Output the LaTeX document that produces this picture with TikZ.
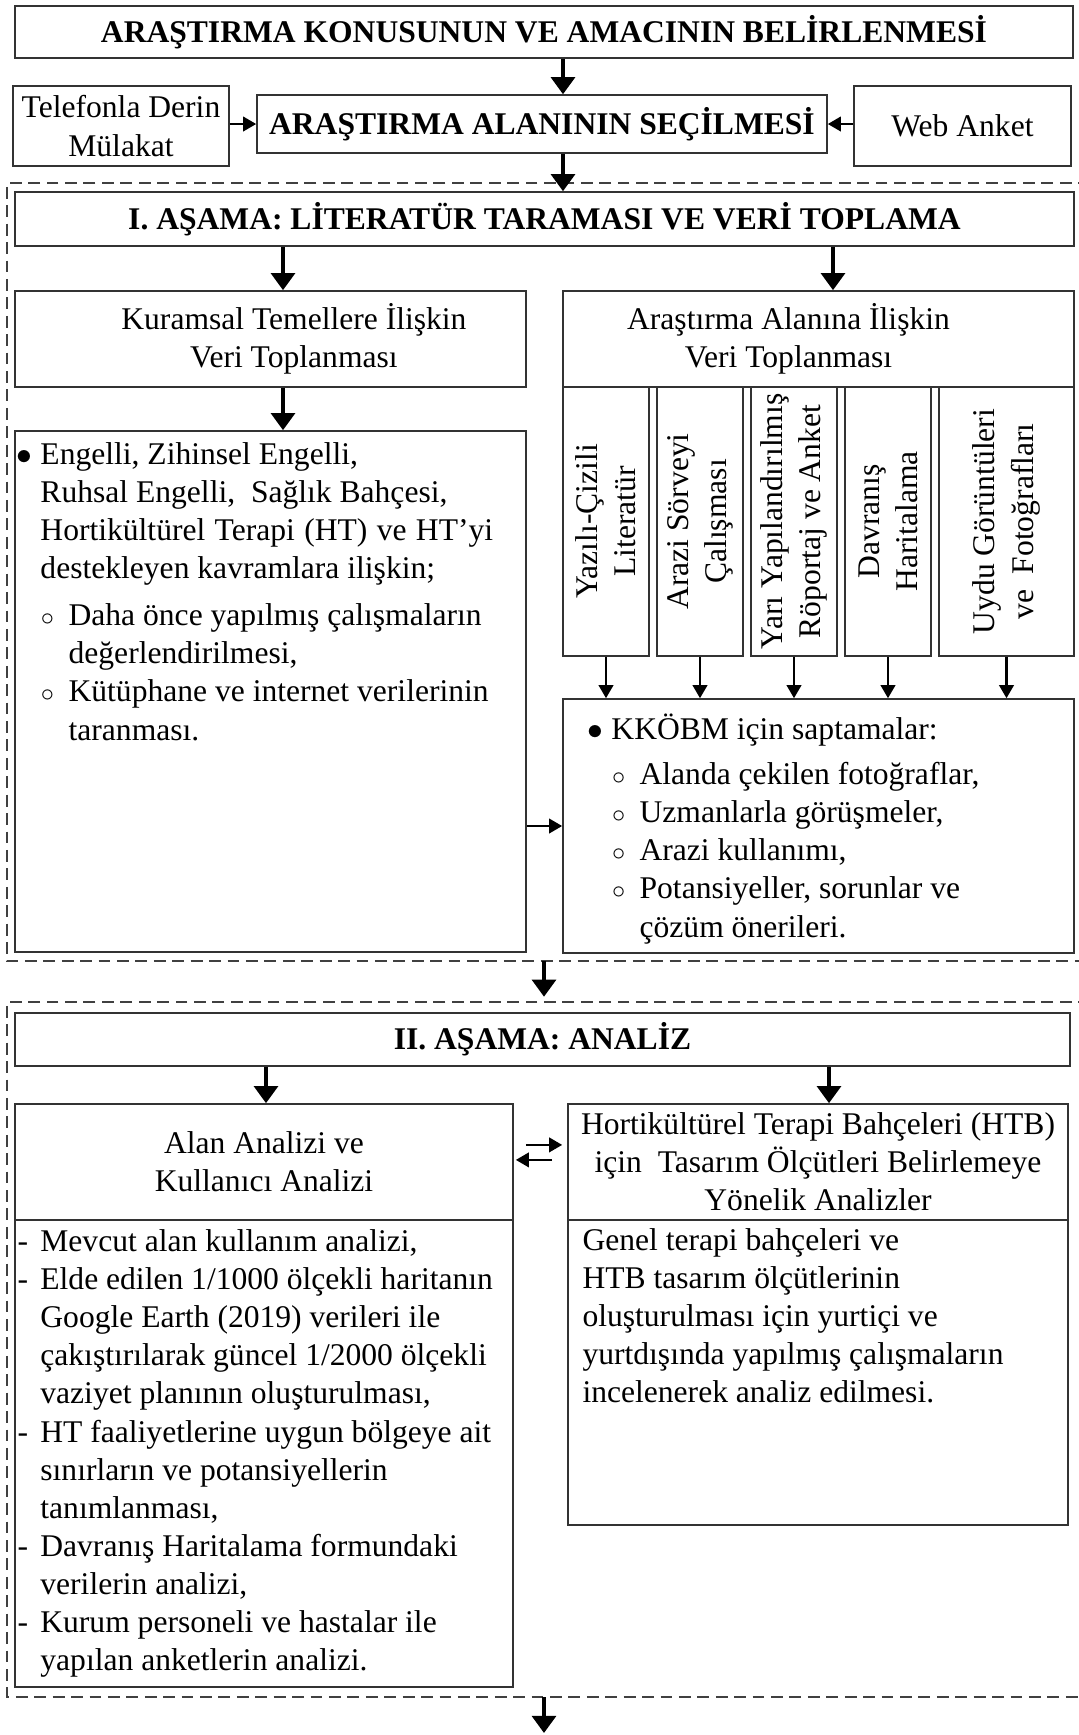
\documentclass[tikz,border=0pt,12pt]{standalone}
\usepackage{fontspec}
\setmainfont{Liberation Serif}
\usepackage{tikz}
\usetikzlibrary{arrows.meta}

\newcommand{\imadde}{\makebox[9.1pt][l]{$\bullet$}}
\newcommand{\omadde}{\hspace*{9.3pt}\makebox[10.5pt][l]{\fontsize{10}{12}\selectfont$\circ$}}
\newcommand{\tire}{\makebox[8.7pt][l]{-}}

\begin{document}
\begin{tikzpicture}[
    x=0.38pt, y=-0.38pt,
    kutu/.style={rectangle, draw=black!80, line width=0.6pt, inner sep=2pt, align=center},
    baslik/.style={kutu, font=\bfseries},
    dikey/.style={kutu, rotate=90, inner sep=0.5pt, minimum width=102.2pt, minimum height=32.7pt},
    yazi/.style={inner sep=0pt, anchor=north west, align=left},
    ok/.style={-{Triangle[width=9pt,length=6.5pt]}, line width=1.5pt},
    inceok/.style={-{Triangle[width=5.5pt,length=5pt]}, line width=1pt},
    kesik/.style={draw=black!75, line width=0.5pt, dash pattern=on 4.5pt off 2.5pt}
  ]

    \useasboundingbox (0,0) rectangle (1079,1735);

    % Ust kisim - konu ve alan secimi
    \node[baslik, minimum width=402pt, minimum height=19.8pt] (amac) at (544,32) {ARAŞTIRMA KONUSUNUN VE AMACININ BELİRLENMESİ};
    \node[baslik, minimum width=216.6pt, minimum height=22pt] (alan) at (542,124) {ARAŞTIRMA ALANININ SEÇİLMESİ};
    \node[kutu, minimum width=82.1pt, minimum height=30.4pt] (telefon) at (121,126) {Telefonla Derin\\Mülakat};
    \node[kutu, minimum width=82.5pt, minimum height=30.4pt] (web) at (962.5,126) {Web Anket};

    % Ok hizalari
    \coordinate (eksen) at (563,0);
    \coordinate (sol1) at (283,0);
    \coordinate (sag1) at (833,0);
    \coordinate (sol2) at (266,0);
    \coordinate (sag2) at (829,0);
    \coordinate (gecis1) at (544,961);
    \coordinate (gecis2) at (544,1002);
    \coordinate (bitis1) at (544,1697);
    \coordinate (bitis2) at (544,1733);

    % Asama cerceveleri (sag kenar sayfa disinda kalir)
    \draw[kesik] (1090,183) -| (7,961) -- (1090,961);
    \draw[kesik] (1090,1002) -| (7,1697) -- (1090,1697);

    % I. asama
    \node[baslik, minimum width=402.4pt, minimum height=20.5pt] (asama1) at (544.5,219) {I. AŞAMA: LİTERATÜR TARAMASI VE VERİ TOPLAMA};
    \node[kutu, minimum width=194.2pt, minimum height=36.5pt] (kuramsal) at (270.5,339) {\hspace*{17.8pt}Kuramsal Temellere İlişkin\\\hspace*{17.8pt}Veri Toplanması};
    \node[kutu, minimum width=194.2pt, minimum height=36.5pt] (arastirma) at (818.5,339) {\hspace*{-22.8pt}Araştırma Alanına İlişkin\\\hspace*{-22.8pt}Veri Toplanması};

    % Kuramsal temeller icerigi
    \node[kutu, minimum width=194.2pt, minimum height=198pt] (kavram) at (270.5,691.5) {};
    \node[yazi] (kavramyazi) at (16,437) {\strut\imadde Engelli, Zihinsel Engelli,\\
      \hspace*{9.1pt}Ruhsal Engelli,~ Sağlık Bahçesi,\\
      \hspace*{9.1pt}\makebox[172pt][s]{Hortikültürel Terapi (HT) ve HT’yi}\\
      \hspace*{9.1pt}destekleyen kavramlara ilişkin;\\[3.3pt]
      \omadde Daha önce yapılmış çalışmaların\\
      \hspace*{19.8pt}değerlendirilmesi,\\
      \omadde Kütüphane ve internet verilerinin\\
      \hspace*{19.8pt}taranması.};

    % Veri toplama yontemleri (dikey kutular)
    \node[dikey] (yazili) at (606,521.5) {Yazılı-Çizili\\Literatür};
    \node[dikey] (arazi) at (700,521.5) {Arazi Sörveyi\\Çalışması};
    \node[dikey] (yari) at (794,521.5) {Yarı Yapılandırılmış\\Röportaj ve Anket};
    \node[dikey] (davranis) at (888,521.5) {Davranış\\Haritalama};
    \node[dikey, minimum height=51.3pt] (uydu) at (1006.5,521.5) {Uydu Görüntüleri\\ve~ Fotoğrafları};

    % KKOBM saptamalari
    \node[kutu, minimum width=194.2pt, minimum height=96.5pt] (kkobm) at (818.5,826) {};
    \node[yazi] (kkobmyazi) at (587,712) {\strut\imadde KKÖBM için saptamalar:\\[2.7pt]
      \omadde Alanda çekilen fotoğraflar,\\
      \omadde Uzmanlarla görüşmeler,\\
      \omadde Arazi kullanımı,\\
      \omadde Potansiyeller, sorunlar ve\\
      \hspace*{19.8pt}çözüm önerileri.};

    % II. asama
    \node[baslik, minimum width=400.9pt, minimum height=20.1pt] (asama2) at (542.5,1039.5) {II. AŞAMA: ANALİZ};
    \node[kutu, minimum width=189.2pt, minimum height=44.1pt] (alanbaslik) at (264,1162) {Alan Analizi ve\\Kullanıcı Analizi};
    \node[kutu, minimum width=189.2pt, minimum height=177.5pt] (alanmetin) at (264,1453.5) {};
    \node[kutu, inner sep=0.5pt, minimum width=190pt, minimum height=44.1pt] (htbbaslik) at (818,1162) {Hortikültürel Terapi Bahçeleri (HTB)\\için~ Tasarım Ölçütleri Belirlemeye\\Yönelik Analizler};
    \node[kutu, minimum width=190pt, minimum height=115.9pt] (htbmetin) at (818,1372.5) {};

    \node[yazi] (alanyazi) at (17,1224) {\strut\tire Mevcut alan kullanım analizi,\\
      \tire Elde edilen 1/1000 ölçekli haritanın\\
      \hspace*{8.7pt}Google Earth (2019) verileri ile\\
      \hspace*{8.7pt}çakıştırılarak güncel 1/2000 ölçekli\\
      \hspace*{8.7pt}vaziyet planının oluşturulması,\\
      \tire HT faaliyetlerine uygun bölgeye ait\\
      \hspace*{8.7pt}sınırların ve potansiyellerin\\
      \hspace*{8.7pt}tanımlanması,\\
      \tire Davranış Haritalama formundaki\\
      \hspace*{8.7pt}verilerin analizi,\\
      \tire Kurum personeli ve hastalar ile\\
      \hspace*{8.7pt}yapılan anketlerin analizi.};
    \node[yazi] (htbyazi) at (582,1223) {\strut Genel terapi bahçeleri ve\\
      HTB tasarım ölçütlerinin\\
      oluşturulması için yurtiçi ve\\
      yurtdışında yapılmış çalışmaların\\
      incelenerek analiz edilmesi.};

    % Oklar
    \draw[ok] (amac.south -| eksen) -- (alan.north -| eksen);
    \draw[inceok] (telefon.east |- alan) -- (alan.west);
    \draw[inceok] (web.west |- alan) -- (alan.east);
    \draw[ok] (alan.south -| eksen) -- (asama1.north -| eksen);
    \draw[ok] (asama1.south -| sol1) -- (kuramsal.north -| sol1);
    \draw[ok] (asama1.south -| sag1) -- (arastirma.north -| sag1);
    \draw[ok] (kuramsal.south -| sol1) -- (kavram.north -| sol1);
    % dikey kutularda west anchor sayfada alt kenardir
    \draw[inceok] (yazili.west) -- (yazili.west |- kkobm.north);
    \draw[inceok] (arazi.west) -- (arazi.west |- kkobm.north);
    \draw[inceok] (yari.west) -- (yari.west |- kkobm.north);
    \draw[inceok] (davranis.west) -- (davranis.west |- kkobm.north);
    \draw[inceok] (uydu.west) -- (uydu.west |- kkobm.north);
    \draw[inceok] (kavram.east |- kkobm.west) -- (kkobm.west);
    \draw[ok, shorten >=2pt] (gecis1) -- (gecis2);
    \draw[ok] (asama2.south -| sol2) -- (alanbaslik.north -| sol2);
    \draw[ok] (asama2.south -| sag2) -- (htbbaslik.north -| sag2);
    \draw[inceok] ([xshift=4.6pt,yshift=6.5pt]alanbaslik.east) -- ([xshift=-1.9pt,yshift=6.5pt]htbbaslik.west);
    \draw[inceok] ([xshift=-5.7pt,yshift=0.8pt]htbbaslik.west) -- ([xshift=0.8pt,yshift=0.8pt]alanbaslik.east);
    \draw[ok] (bitis1) -- (bitis2);

  \end{tikzpicture}
\end{document}
